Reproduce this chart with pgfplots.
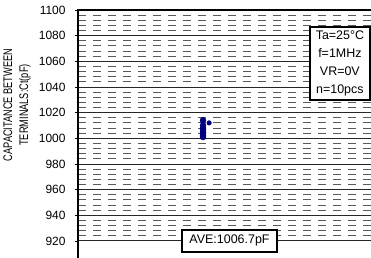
\documentclass[border=0pt]{standalone}
\usepackage{pgfplots}
\pgfplotsset{compat=1.18}
\usepackage{fontspec}
\setmainfont{Liberation Sans}
\newfontfamily\narrowfont[FakeStretch=0.74]{Liberation Sans}
\definecolor{navy}{RGB}{0,0,128}
\begin{document}
\begin{tikzpicture}
\path[use as bounding box] (0,0) rectangle (371bp,258bp);
\clip (0,0) rectangle (371bp,258bp);
\begin{axis}[
  at={(78bp,248bp)}, anchor=north west,
  scale only axis, width=300bp, height=256.6bp,
  xmin=0, xmax=1, ymin=900, ymax=1100,
  xtick=\empty,
  ytick={920,940,...,1100},
  minor y tick num=4,
  ymajorgrids, yminorgrids,
  major grid style={solid, draw=black!85, line width=0.9bp},
  minor grid style={dash pattern=on 8bp off 7bp, draw=black!65, line width=0.9bp},
  axis line style={black, line width=1.8bp},
  tick style={black, line width=0.8bp},
  major tick length=3bp, minor tick length=0bp,
  tick align=outside,
  /pgf/number format/assume math mode=true,
  /pgf/number format/set thousands separator={},
  yticklabel style={font=\fontsize{12}{15}\selectfont, xshift=-6bp},
  ylabel={CAPACITANCE BETWEEN\\TERMINALS:Ct(pF)},
  ylabel style={at={(axis description cs:-0.203,0.63)}, anchor=center, align=center,
    font=\narrowfont\fontsize{12.5}{16}\selectfont},
]
\addplot[only marks, mark=*, mark size=3bp, color=navy] coordinates {
  (0.4167,1001) (0.4167,1002) (0.4167,1004) (0.4167,1005) (0.4167,1004)
  (0.4167,1007) (0.4167,1008) (0.4167,1010) (0.4167,1014)
};
\addplot[only marks, mark=*, mark size=2.3bp, color=navy] coordinates {
  (0.437,1012)
};
\node[draw=black, line width=1.2bp, fill=white, align=center,
  font=\fontsize{12.5}{18}\selectfont, minimum width=60bp, minimum height=73bp,
  inner sep=2bp] at (axis cs:0.873,1058.3) {Ta=25°C\\f=1MHz\\VR=0V\\n=10pcs};
\node[draw=black, line width=1.2bp, fill=white,
  font=\fontsize{12.5}{15}\selectfont, minimum width=95bp, minimum height=22bp,
  inner sep=2bp] at (axis cs:0.505,920) {AVE:1006.7pF};
\end{axis}
\end{tikzpicture}
\end{document}
